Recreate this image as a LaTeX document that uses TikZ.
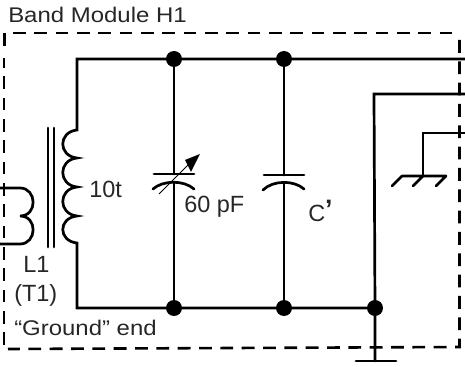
\documentclass[tikz,border=0pt]{standalone}
\usepackage{fontspec}
\setmainfont{Liberation Sans}
\newfontfamily\widefont[FakeStretch=1.13]{Liberation Sans}
\tikzset{
  wire/.style={line width=2.7pt*0.75,line cap=round},
  dot/.style={circle,fill=black,inner sep=0pt,minimum size=12pt},
  lab/.style={inner sep=0pt,anchor=base west,font=\fontsize{17.6pt}{20pt}\selectfont,text=black!85},
  widelab/.style={lab,font=\fontsize{15.9pt}{18pt}\widefont},
  frame/.style={line width=2.6pt*0.75,dash pattern=on 9.6pt off 6.4pt},
}
\begin{document}
\begin{tikzpicture}[x=0.75pt,y=-0.75pt]
\useasboundingbox (0,0) rectangle (465,367);
\draw[frame] (4.5,46) -- (4.5,33) -- (459,33);
\draw[frame] (459.5,40) -- (459.5,347) -- (8,349);
\draw[frame] (4,345) -- (4,58);
\coordinate (ct) at (77,59); \coordinate (cb) at (77,308);
\coordinate (r1) at (465,59); \coordinate (r2) at (465,94); \coordinate (r3) at (465,133);
\coordinate (c2) at (374,94); \coordinate (c3) at (423,133);
\coordinate (g3) at (423,176);
\node[dot] (d1) at (174,59) {}; \node[dot] (d2) at (284,59) {};
\node[dot] (d3) at (174,308) {}; \node[dot] (d4) at (284,308) {}; \node[dot] (d5) at (375,308) {};
\draw[wire] (r1) -- (ct) -- (77,130)
  .. controls (58,132) and (58,156) .. (77,158)
  .. controls (58,160) and (58,185) .. (77,187)
  .. controls (58,189) and (58,214) .. (77,216)
  .. controls (58,218) and (58,241) .. (77,243) -- (cb) -- (d5.center);
\draw[wire] (r2) -- (c2) -- (d5.center) -- (375,361);
\draw[wire] (r3) -- (c3) -- (g3);
\draw[wire] (402,176) -- (446,176) (402,176) -- (392,186) (g3) -- (413,186) (446,176) -- (436,186);
\draw[wire] (356,361) -- (396,361);
\draw[wire] (48,128) -- (48,247) (54,128) -- (54,247);
\draw[wire] (0,188) -- (20,188) .. controls (37,188) and (38,216) .. (20,216)
  .. controls (38,216) and (37,244) .. (20,244) -- (0,244);
% variable cap
\draw[wire] (d1) -- (174,174) (154,174) -- (194,174);
\draw[wire] (153,189) .. controls (163,180) and (184,180) .. (194,189);
\draw[wire] (174,183) -- (d3);
\draw[line width=0.6pt] (159,194) -- (190,163);
\fill (200,154) -- (191,172) -- (185,160) -- cycle;
% fixed cap
\draw[wire] (d2) -- (284,175) (264,175) -- (304,175);
\draw[wire] (263,190) .. controls (273,180) and (294,180) .. (304,189);
\draw[wire] (284,183) -- (d4);
\node[widelab] (t1) at (8,22.5) {Band Module H1};
\node[lab] (t2) at (89,198) {10t};
\node[lab] (t3) at (184,213) {60 pF};
\node[lab] (t4) at (308,221.5) {C\raisebox{2.5pt}{\bfseries\fontsize{20pt}{20pt}\selectfont ’}};
\node[lab] (t5a) at (23,273) {L1};
\node[lab] (t5b) at (14,302) {(T1)};
\node[widelab] (t6) at (14,336) {“Ground” end};
\end{tikzpicture}
\end{document}
